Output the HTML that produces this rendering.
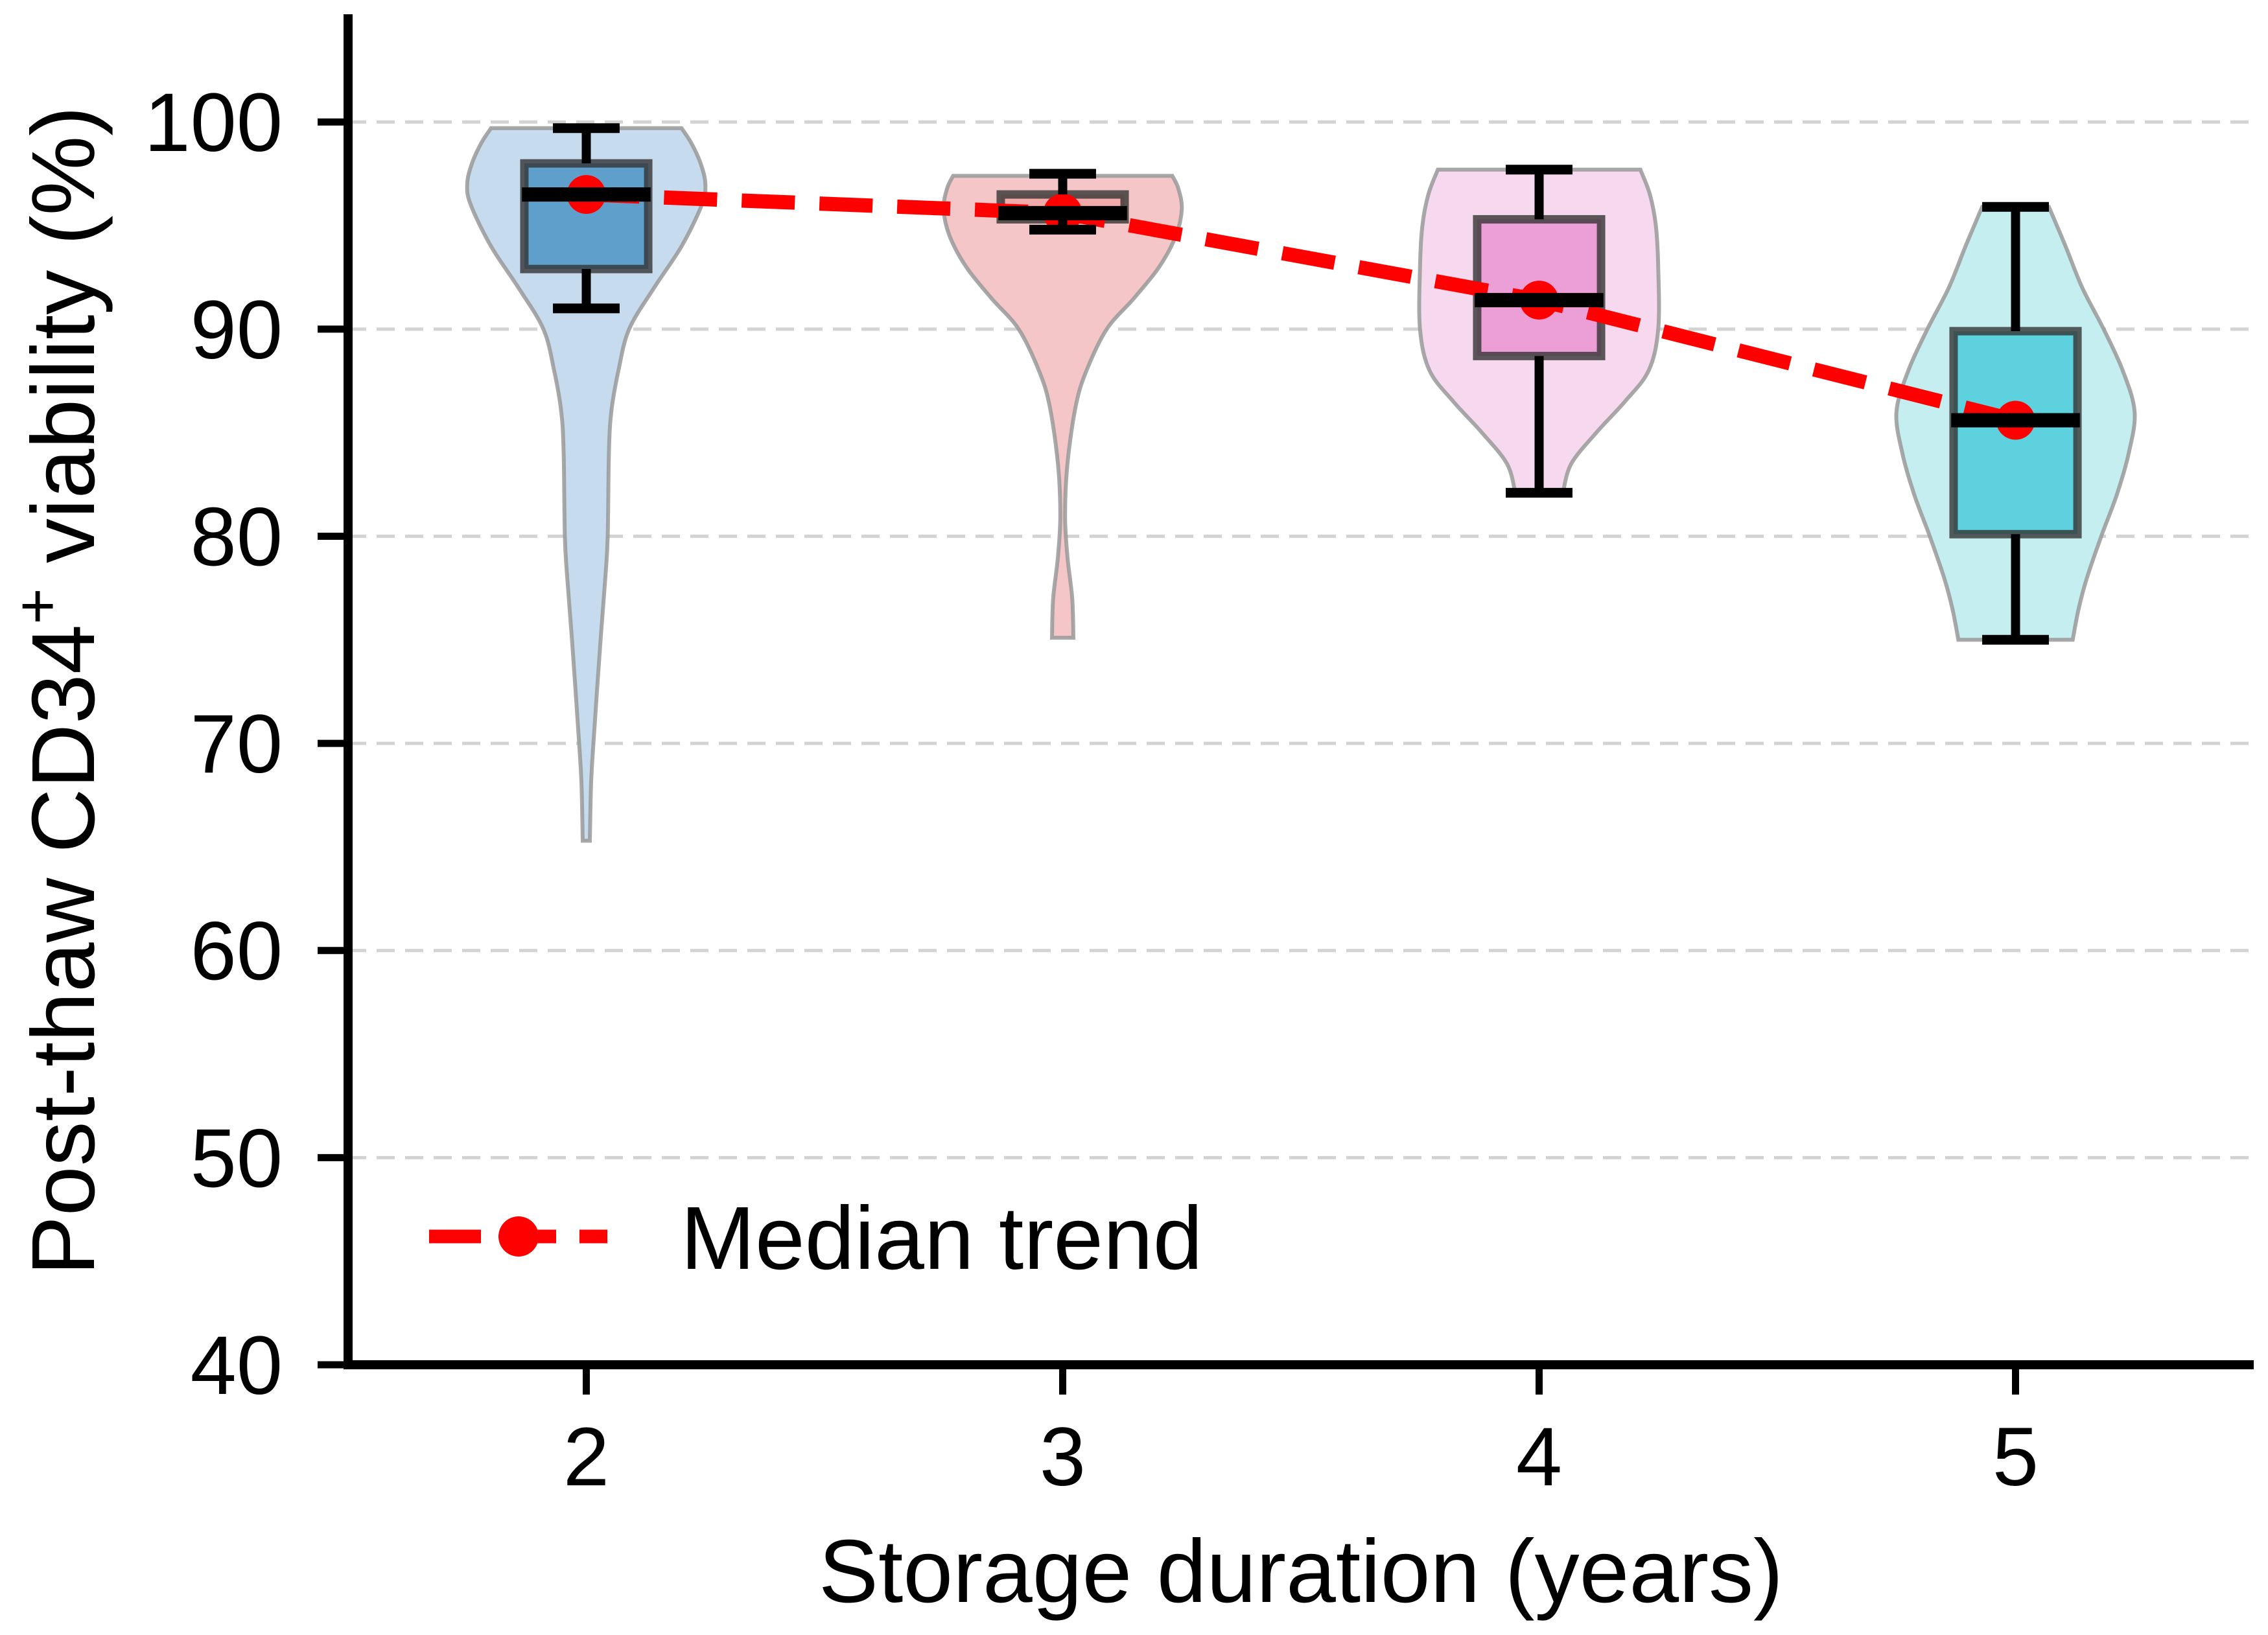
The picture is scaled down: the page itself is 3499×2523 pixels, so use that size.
<!DOCTYPE html>
<html><head><meta charset="utf-8"><style>
html,body{margin:0;padding:0;background:#fff;}
svg{display:block;font-family:"Liberation Sans",Arial,sans-serif;}
</style></head><body>
<svg id="chart" width="3499" height="2523" viewBox="0 0 3499 2523" xmlns="http://www.w3.org/2000/svg">
<g id="grid"></g>
<g id="violins"></g>
<g id="boxes"></g>
<g id="trend"></g>
<g id="whiskers"></g>
<g id="axes"></g>
<g id="legend">
  <line x1="662" y1="1908" x2="937" y2="1908" stroke="#ff0000" stroke-width="21" stroke-dasharray="80,36"/>
  <circle cx="800" cy="1908" r="31" fill="#ff0000"/>
  <text x="1050" y="1958" font-size="138" fill="#000">Median trend</text>
</g>
<text x="2007" y="2472" font-size="138" text-anchor="middle" fill="#000">Storage duration (years)</text>
<text transform="translate(145,1066) rotate(-90)" font-size="138" text-anchor="middle" fill="#000">Post-thaw CD34<tspan dy="-55" font-size="96">+</tspan><tspan dy="55"> viability (%)</tspan></text>
</svg>
<script>
const categories = [2, 3, 4, 5];
const yTicks = [40, 50, 60, 70, 80, 90, 100];
const gridTicks = [50, 60, 70, 80, 90, 100];
const medians = [96.5, 95.6, 91.4, 85.6];
const q1s = [92.9, 95.3, 88.7, 80.1];
const q3s = [98.0, 96.5, 95.3, 89.9];
const whiskLow = [91.0, 94.8, 82.1, 75.0];
const whiskHigh = [99.7, 97.5, 97.7, 95.9];
const profile2 = [[65.3,0.03],[68,0.04],[70,0.06],[75,0.12],[78,0.16],[80,0.18],[84,0.19],[86,0.21],[88,0.27],[90,0.36],[92,0.57],[94,0.8],[96,0.97],[97,1.0],[98,0.96],[99,0.88],[99.7,0.8]];
const profile3 = [[75.1,0.09],[77,0.08],[79,0.04],[81,0.02],[83.5,0.04],[86.3,0.11],[88,0.2],[90,0.37],[91.5,0.6],[93,0.81],[94.5,0.95],[95.8,1.0],[96.8,0.97],[97.4,0.92]];
const profile4 = [[82.1,0.2],[83.5,0.27],[85,0.48],[86.5,0.72],[88,0.92],[90,1.0],[93,1.0],[95,0.98],[96.5,0.93],[97.7,0.85]];
const profile5 = [[75,0.48],[76.5,0.53],[78,0.6],[80,0.72],[82,0.85],[84,0.95],[86,1.0],[88,0.9],[90,0.74],[92,0.56],[94,0.42],[95.9,0.28]];
const profiles = [profile2, profile3, profile4, profile5];
const violinFill = ['#c6dbee', '#f4c6c7', '#f6d9ee', '#c5eef1'];
const boxFill = ['#5f9fcc', '#f2a9aa', '#eb9fd6', '#5ed1de'];

const NS = 'http://www.w3.org/2000/svg';
const X0 = 537, X1 = 3477, Y0 = 2106, Y1 = 22;
const xMin = 1.5, xMax = 5.5, yMin = 40, yMax = 105.2;
const xs = v => X0 + (v - xMin) / (xMax - xMin) * (X1 - X0);
const ys = v => Y0 - (v - yMin) / (yMax - yMin) * (Y0 - Y1);
const unit = (X1 - X0) / (xMax - xMin);
function mk(tag, attrs, parent) {
  const e = document.createElementNS(NS, tag);
  for (const k in attrs) e.setAttribute(k, attrs[k]);
  parent.appendChild(e);
  return e;
}
const grid = document.getElementById('grid');
gridTicks.forEach(t => {
  const l = mk('line', {x1: X0, x2: X1, y1: ys(t), y2: ys(t), stroke: '#d3d3d3', 'stroke-width': 5, 'stroke-dasharray': '28,16'}, grid);
  
  
});
function smoothPath(pts) {
  let d = 'M' + pts[0][0] + ',' + pts[0][1];
  for (let i = 0; i < pts.length - 1; i++) {
    const p0 = pts[Math.max(0, i - 1)], p1 = pts[i], p2 = pts[i + 1], p3 = pts[Math.min(pts.length - 1, i + 2)];
    const c1x = p1[0] + (p2[0] - p0[0]) / 6, c1y = p1[1] + (p2[1] - p0[1]) / 6;
    const c2x = p2[0] - (p3[0] - p1[0]) / 6, c2y = p2[1] - (p3[1] - p1[1]) / 6;
    d += ' C' + c1x + ',' + c1y + ' ' + c2x + ',' + c2y + ' ' + p2[0] + ',' + p2[1];
  }
  return d;
}
const vg = document.getElementById('violins');
const bg = document.getElementById('boxes');
const wg = document.getElementById('whiskers');
const tg = document.getElementById('trend');
const halfMax = 0.25 * unit;
categories.forEach((c, i) => {
  const cx = xs(c);
  const prof = profiles[i];
  const right = prof.map(p => [cx + p[1] * halfMax, ys(p[0])]);
  const left = prof.slice().reverse().map(p => [cx - p[1] * halfMax, ys(p[0])]);
  let d = smoothPath(right) + ' L' + left[0][0] + ',' + left[0][1] + smoothPath(left).replace(/^M[^ ]+/, '') + ' Z';
  const v = mk('path', {d: d, fill: violinFill[i], stroke: '#999', 'stroke-width': 6, 'stroke-opacity': 0.85}, vg);
  
  
  const bw = 0.13 * unit;
  const b = mk('rect', {x: cx - bw, y: ys(q3s[i]), width: 2 * bw, height: ys(q1s[i]) - ys(q3s[i]), fill: boxFill[i], stroke: '#333', 'stroke-opacity': 0.8, 'stroke-width': 13}, bg);
  
  
  const capW = 0.07 * unit;
  const segs = [
    [cx, ys(q3s[i]), cx, ys(whiskHigh[i]), 14, 'whisker-high'],
    [cx, ys(q1s[i]), cx, ys(whiskLow[i]), 14, 'whisker-low'],
    [cx - capW, ys(whiskHigh[i]), cx + capW, ys(whiskHigh[i]), 15, 'cap-high'],
    [cx - capW, ys(whiskLow[i]), cx + capW, ys(whiskLow[i]), 15, 'cap-low']
  ];
  segs.forEach(s => {
    const l = mk('line', {x1: s[0], y1: s[1], x2: s[2], y2: s[3], stroke: '#000', 'stroke-width': s[4]}, wg);
    
    
  });
});
const tl = mk('polyline', {points: categories.map((c, i) => xs(c) + ',' + ys(medians[i])).join(' '), fill: 'none', stroke: '#ff0000', 'stroke-width': 22, 'stroke-dasharray': '82,38'}, tg);


categories.forEach((c, i) => {
  const p = mk('circle', {cx: xs(c), cy: ys(medians[i]), r: 30, fill: '#ff0000'}, tg);
  
  
  const bw = 0.135 * unit;
  const m = mk('line', {x1: xs(c) - bw, x2: xs(c) + bw, y1: ys(medians[i]), y2: ys(medians[i]), stroke: '#000', 'stroke-width': 22}, wg);
  
  
});
const ax = document.getElementById('axes');
const ls = mk('line', {x1: X0, x2: X0, y1: Y1, y2: Y0 + 7, stroke: '#000', 'stroke-width': 14}, ax);


const bs = mk('line', {x1: X0 - 7, x2: X1, y1: Y0, y2: Y0, stroke: '#000', 'stroke-width': 14}, ax);


yTicks.forEach(t => {
  const l = mk('line', {x1: X0 - 47, x2: X0, y1: ys(t), y2: ys(t), stroke: '#000', 'stroke-width': 11}, ax);
  
  
  const tx = mk('text', {x: 436, y: ys(t) + 45, 'font-size': 128, 'text-anchor': 'end', fill: '#000'}, ax);
  tx.textContent = t;
  
  
});
categories.forEach(c => {
  const l = mk('line', {x1: xs(c), x2: xs(c), y1: Y0, y2: Y0 + 46, stroke: '#000', 'stroke-width': 11}, ax);
  
  
  const tx = mk('text', {x: xs(c), y: 2292, 'font-size': 128, 'text-anchor': 'middle', fill: '#000'}, ax);
  tx.textContent = c;
  
  
});
</script>
</body></html>
